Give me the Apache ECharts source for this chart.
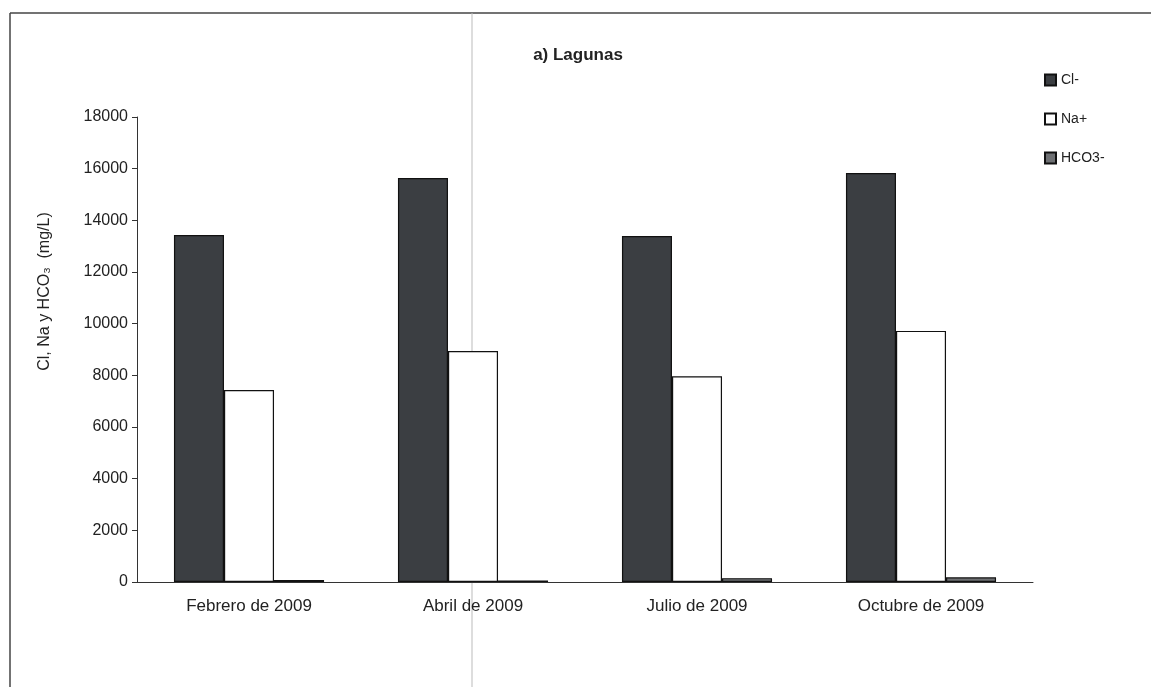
<!DOCTYPE html>
<html>
<head>
<meta charset="utf-8">
<script src="https://cdn.jsdelivr.net/npm/echarts@6/dist/echarts.min.js"></script>
<style>
    html, body { margin: 0; padding: 0; background: #fff; }
    #chart { width: 1151px; height: 687px; }
</style>
</head>
<body>
<div id="chart"></div>
<script>
// data
var months = ['Febrero de 2009', 'Abril de 2009', 'Julio de 2009', 'Octubre de 2009'];
var cl = [13430, 15640, 13390, 15830];
var na = [7430, 8940, 7960, 9720];
var hco3 = [80, 60, 150, 180];

var font = 'Arial, "Liberation Sans", sans-serif';

function barSeries(name, data, color) {
    return {
        name: name,
        type: 'bar',
        data: data,
        barGap: '0%',
        barCategoryGap: '33%',
        itemStyle: { color: color, borderColor: '#111', borderWidth: 1.2 }
    };
}

var myChart = echarts.init(document.getElementById('chart'));
myChart.setOption({
    animation: false,
    backgroundColor: '#fff',
    textStyle: { fontFamily: font },
    title: {
        text: 'a) Lagunas',
        left: 573,
        top: 42,
        textAlign: 'center',
        textStyle: { fontFamily: font, fontSize: 17, fontWeight: 'bold', color: '#222' }
    },
    legend: {
        orient: 'vertical',
        left: 1039,
        top: 68,
        itemGap: 25,
        itemWidth: 11,
        itemHeight: 11,
        icon: 'rect',
        textStyle: { fontFamily: font, fontSize: 14, color: '#222' },
        data: ['Cl-', 'Na+', 'HCO3-']
    },
    grid: { left: 137, right: 118, top: 117, bottom: 105 },
    xAxis: {
        type: 'category',
        data: months,
        axisLine: { lineStyle: { color: '#333', width: 1 } },
        axisTick: { length: 5, lineStyle: { color: '#333' } },
        axisLabel: { fontFamily: font, fontSize: 17, color: '#222', margin: 16 }
    },
    yAxis: {
        type: 'value',
        min: 0,
        max: 18000,
        interval: 2000,
        name: 'Cl, Na y HCO\u2083  (mg/L)',
        nameLocation: 'middle',
        nameGap: 84,
        nameTextStyle: { fontFamily: font, fontSize: 16, color: '#222', padding: [0, 0, 0, 116] },
        axisLine: { show: true, lineStyle: { color: '#333', width: 1 } },
        axisTick: { show: true, length: 5, lineStyle: { color: '#333' } },
        splitLine: { show: false },
        axisLabel: {
            fontFamily: font, fontSize: 16, color: '#222', margin: 9,
            formatter: function (v) { return String(v); }
        }
    },
    graphic: [
        { type: 'line', shape: { x1: 10, y1: 13, x2: 1151, y2: 13 }, style: { stroke: '#444', lineWidth: 1.5 } },
        { type: 'line', shape: { x1: 10, y1: 13, x2: 10, y2: 687 }, style: { stroke: '#444', lineWidth: 1.5 } },
        { type: 'line', shape: { x1: 472, y1: 13, x2: 472, y2: 687 }, style: { stroke: '#bbb', lineWidth: 1 } }
    ],
    series: [
        barSeries('Cl-', cl, '#3b3e42'),
        barSeries('Na+', na, '#ffffff'),
        barSeries('HCO3-', hco3, '#6e7073')
    ]
});
</script>
</body>
</html>
